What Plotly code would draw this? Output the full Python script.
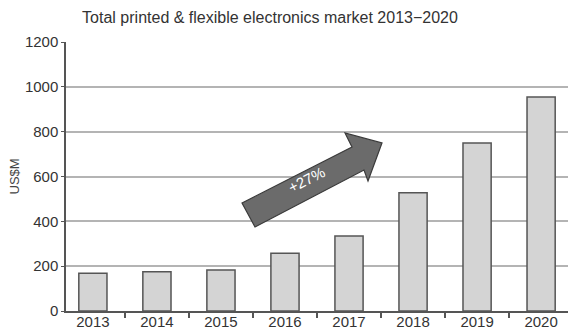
import plotly.graph_objects as go

years = ["2013", "2014", "2015", "2016", "2017", "2018", "2019", "2020"]
market_usd_m = [168, 175, 183, 258, 335, 527, 750, 955]
y_ticks = [0, 200, 400, 600, 800, 1000, 1200]
growth_label = "+27%"
title_text = "Total printed & flexible electronics market 2013\u22122020"
y_title = "US$M"

FONT = "Liberation Sans, Arial, sans-serif"
TXT = "#333333"

fig = go.Figure()
fig.add_trace(go.Bar(
    x=years, y=market_usd_m, width=0.44,
    marker=dict(color="#d4d4d4", line=dict(color="#555555", width=1.5)),
    showlegend=False,
))

# Arrow (paper coordinates within the plot domain)
pts = [(0.3506, 0.4015), (0.5697, 0.6097), (0.5558, 0.6617), (0.6295, 0.6245),
       (0.6016, 0.4833), (0.5936, 0.5242), (0.3765, 0.3123)]
path = "M " + " L ".join(f"{x},{y}" for x, y in pts) + " Z"
fig.add_shape(type="path", path=path, xref="x domain", yref="y domain",
              fillcolor="#6b6b6b", line=dict(color="#3a3a3a", width=1.2), layer="above")
fig.add_annotation(x=0.479, y=0.49, xref="x domain", yref="y domain",
                   text=growth_label, showarrow=False, textangle=-27,
                   font=dict(family=FONT, size=15, color="white"))
fig.add_annotation(x=(14 - 66) / 502, y=0.5, xref="paper", yref="y domain",
                   text=y_title, showarrow=False, textangle=-90,
                   xanchor="center", yanchor="middle",
                   font=dict(family=FONT, size=13, color="#444444"))

fig.update_layout(
    width=568, height=334,
    margin=dict(l=66, r=0, t=42, b=23, autoexpand=False),
    paper_bgcolor="white", plot_bgcolor="white",
    font=dict(family=FONT, size=15, color=TXT),
    title=dict(text=title_text, x=270/568, xanchor="center", y=1 - 17/334, yanchor="middle",
               font=dict(family=FONT, size=16, color=TXT)),
)
fig.update_xaxes(
    type="category", range=[-0.42, 7.42], automargin=False,
    showline=True, linecolor="#555555", linewidth=1.5,
    ticks="outside", tickson="boundaries", ticklen=5, tickcolor="#555555", tickwidth=1.5,
    ticklabelstandoff=-4,
    showgrid=False, tickfont=dict(family=FONT, size=15, color=TXT),
)
fig.update_yaxes(
    range=[0, 1200], tickvals=y_ticks, automargin=False,
    showline=True, linecolor="#555555", linewidth=1.5,
    showgrid=True, gridcolor="#b4b4b4", gridwidth=1.5,
    ticks="outside", ticklen=3, tickcolor="#555555",
    tickfont=dict(family=FONT, size=15, color=TXT),
    zeroline=False,
)
fig.write_html("out.html", config={"displayModeBar": False},
               post_script="document.body.style.margin='0';")
